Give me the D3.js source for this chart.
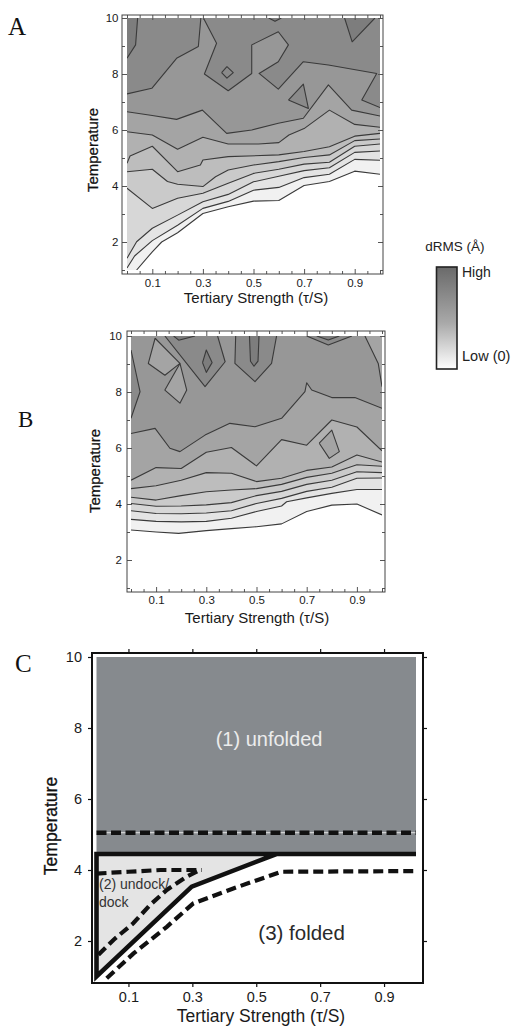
<!DOCTYPE html>
<html><head><meta charset="utf-8">
<script src="https://cdn.jsdelivr.net/npm/d3@7"></script>
<style>body{margin:0;background:#fff}svg{display:block}</style>
</head><body><svg id="c" width="513" height="1028"></svg>
<script>
// ================= DATA =================
const xTickValues = [0.1, 0.3, 0.5, 0.7, 0.9];
const xTickLabels = ["0.1", "0.3", "0.5", "0.7", "0.9"];
const yTickValues = [2, 4, 6, 8, 10];
const yTickLabels = ["2", "4", "6", "8", "10"];
const xTitle = "Tertiary Strength (\u03c4/S)";
const yTitle = "Temperature";
const panelLetters = ["A", "B", "C"];
const legendTitle = "dRMS (\u00c5)";
const legendHigh = "High";
const legendLow = "Low (0)";

// Contour lines of dRMS, panel A: [tertiary strength, temperature]
const contoursA = [
  {level:1, line:[[0.038,1.0],[0.1,1.65],[0.137,2.0],[0.2,2.33],[0.3,3.02],[0.4,3.26],[0.5,3.46],[0.6,3.48],[0.7,4.02],[0.8,4.16],[0.9,4.53],[1.0,4.42]], corners:[[1,10],[0,10],[0,1]]},
  {level:2, line:[[0,1.07],[0.03,1.5],[0.1,2.05],[0.2,2.6],[0.3,3.2],[0.4,3.45],[0.5,3.85],[0.6,3.95],[0.7,4.3],[0.8,4.42],[0.9,4.95],[1.0,4.92]], corners:[[1,10],[0,10]]},
  {level:3, line:[[0,1.42],[0.038,2.01],[0.1,2.49],[0.2,2.96],[0.3,3.44],[0.4,3.7],[0.5,4.15],[0.6,4.35],[0.7,4.55],[0.8,4.65],[0.9,5.2],[1.0,5.25]], corners:[[1,10],[0,10]]},
  {level:4, line:[[0,3.92],[0.1,3.2],[0.2,3.56],[0.3,3.74],[0.4,4.1],[0.5,4.45],[0.6,4.6],[0.7,4.78],[0.8,4.85],[0.9,5.42],[1.0,5.5]], corners:[[1,10],[0,10]]},
  {level:5, line:[[0,4.51],[0.1,4.6],[0.16,4.16],[0.2,4.06],[0.3,3.98],[0.35,4.33],[0.4,4.57],[0.5,4.75],[0.6,4.87],[0.7,5.02],[0.8,5.11],[0.9,5.62],[1.0,5.68]], corners:[[1,10],[0,10]]},
  {level:6, line:[[0,4.81],[0.012,5.07],[0.1,5.42],[0.2,4.51],[0.29,4.75],[0.3,4.93],[0.4,5.05],[0.6,5.11],[0.7,5.23],[0.8,5.4],[0.9,5.78],[1.0,5.88]], corners:[[1,10],[0,10]]},
  {level:7, line:[[0,5.94],[0.1,5.82],[0.2,5.31],[0.3,5.74],[0.4,5.5],[0.52,5.5],[0.6,5.55],[0.64,5.82],[0.7,6.05],[0.8,6.71],[0.9,6.2],[1.0,6.1]], corners:[[1,10],[0,10]]},
  {level:8, line:[[0,6.65],[0.1,6.52],[0.196,6.38],[0.298,6.71],[0.394,5.88],[0.493,6.0],[0.598,6.24],[0.697,6.42],[0.796,7.61],[0.888,6.71],[1.0,6.5]], corners:[[1,10],[0,10]]},
  {level:9, line:[[0,7.29],[0.098,7.49],[0.196,8.56],[0.282,8.98],[0.292,10]], corners:[[0,10]]},
  {level:9, line:[[0.302,10],[0.354,9.1],[0.306,8.0],[0.4,7.4],[0.493,8.02],[0.493,9.04],[0.598,9.51],[0.638,9.04],[0.598,8.44],[0.522,8.02],[0.598,7.46],[0.697,8.44],[0.796,8.32],[0.987,8.02],[0.928,7.07],[1.0,6.8]], corners:[[1,10]]},
  {level:10, line:[[0,8.56],[0.034,9.04],[0.042,10]], corners:[[0,10]]},
  {level:10, line:[[0.56,10],[0.585,9.88],[0.61,10]], corners:[]},
  {level:10, line:[[0.86,10],[0.89,9.15],[0.98,10]], corners:[]},
  {level:9, line:[[0.374,8.05],[0.395,8.26],[0.42,8.05],[0.395,7.85]], closed:true},
  {level:9, line:[[0.638,7.07],[0.697,7.64],[0.717,6.77]], closed:true}
];

// Contour lines of dRMS, panel B
const contoursB = [
  {level:1, line:[[0,3.07],[0.1,3.0],[0.19,2.95],[0.3,3.05],[0.4,3.12],[0.5,3.19],[0.6,3.29],[0.7,3.73],[0.8,3.96],[0.9,4.0],[1.0,3.61]], corners:[[1,10],[0,10]]},
  {level:2, line:[[0,3.45],[0.1,3.38],[0.2,3.36],[0.3,3.38],[0.4,3.49],[0.5,3.73],[0.6,3.93],[0.62,4.08],[0.7,4.22],[0.8,4.38],[0.9,4.52],[1.0,4.52]], corners:[[1,10],[0,10]]},
  {level:3, line:[[0,3.76],[0.1,3.66],[0.2,3.65],[0.3,3.68],[0.4,3.76],[0.5,4.02],[0.6,4.2],[0.7,4.45],[0.8,4.6],[0.9,4.92],[1.0,4.93]], corners:[[1,10],[0,10]]},
  {level:4, line:[[0,4.02],[0.1,3.92],[0.2,3.93],[0.3,3.97],[0.4,4.05],[0.5,4.3],[0.6,4.45],[0.7,4.7],[0.8,4.85],[0.9,5.15],[1.0,5.12]], corners:[[1,10],[0,10]]},
  {level:5, line:[[0,4.24],[0.1,4.14],[0.2,4.3],[0.3,4.44],[0.4,4.5],[0.5,4.55],[0.6,4.7],[0.7,4.95],[0.8,5.1],[0.9,5.4],[1.0,5.35]], corners:[[1,10],[0,10]]},
  {level:6, line:[[0,4.55],[0.1,4.65],[0.2,4.85],[0.3,5.12],[0.4,5.1],[0.5,4.8],[0.6,4.92],[0.7,5.2],[0.8,5.32],[0.9,5.75],[1.0,5.5]], corners:[[1,10],[0,10]]},
  {level:7, line:[[0,4.85],[0.1,5.3],[0.2,5.27],[0.3,5.85],[0.4,6.02],[0.5,5.36],[0.6,6.3],[0.7,6.1],[0.8,7.0],[0.9,6.75],[1.0,5.9]], corners:[[1,10],[0,10]]},
  {level:8, line:[[0,6.52],[0.096,6.7],[0.155,5.99],[0.195,5.87],[0.295,6.46],[0.394,6.88],[0.494,6.76],[0.6,7.06],[0.693,8.01],[0.7,8.33],[0.72,8.07],[0.8,7.8],[0.892,7.8],[1.0,7.42]], corners:[[1,10],[0,10]]},
  {level:7, line:[[0.096,9.92],[0.195,9.02],[0.135,8.6],[0.069,9.02]], closed:true},
  {level:7, line:[[0.195,9.02],[0.222,8.07],[0.195,7.6],[0.135,8.07]], closed:true},
  {level:7, line:[[0.932,10],[0.985,9.02],[1.0,8.19]], corners:[[1,10]]},
  {level:9, line:[[0,9.5],[0.036,8.01],[0,7.06]], corners:[]},
  {level:9, line:[[0.135,10],[0.295,8.19],[0.375,9.08],[0.345,10]], corners:[]},
  {level:10, line:[[0.17,10],[0.19,9.85],[0.255,10]], corners:[]},
  {level:10, line:[[0.285,9.05],[0.3,9.5],[0.323,9.05],[0.3,8.7]], closed:true},
  {level:9, line:[[0.417,10],[0.414,9.02],[0.494,8.37],[0.56,9.02],[0.58,10]], corners:[]},
  {level:10, line:[[0.472,10],[0.476,9.1],[0.49,8.92],[0.506,9.1],[0.51,10]], corners:[]},
  {level:9, line:[[0.70,10],[0.786,9.68],[0.88,10]], corners:[]},
  {level:10, line:[[0.74,10],[0.786,9.86],[0.83,10]], corners:[]},
  {level:7, line:[[0.75,6.17],[0.8,6.64],[0.83,5.87],[0.79,5.63]], closed:true}
];

// Panel C phase diagram
const phaseUnfolded = [[0,4.45],[1,4.45],[1,10],[0,10]];
const phaseUndock = [[0,4.45],[0.563,4.45],[0.298,3.53],[0,1.0]];
const boundarySolid = [[1,4.45],[0.563,4.45],[0.298,3.53],[0,1.0],[0,4.45],[0.563,4.45]];
const boundaryDashUpper = [[0,5.05],[1,5.05]];
const boundaryDashFlat = [[0,3.9],[0.1,3.95],[0.2,4.0],[0.33,4.0]];
const boundaryDashInner = [[0.006,1.61],[0.053,2.03],[0.115,2.5],[0.167,3.01],[0.22,3.44],[0.282,3.81],[0.324,4.0]];
const boundaryDashOuter = [[0.032,0.95],[0.116,1.65],[0.22,2.4],[0.303,3.06],[0.428,3.48],[0.578,3.95],[1.0,3.97]];
const phaseNames = ["(1) unfolded", "(2) undock/", "dock", "(3) folded"];

// ================= STYLE / LAYOUT =================
const shades = ["#ffffff","#f1f1f1","#e4e4e4","#d7d7d7","#cacaca","#bdbdbd","#b1b1b1","#a4a4a4","#979797","#8a8a8a","#7d7d7d"];
const FONT = "'Liberation Sans', Arial, sans-serif";
const SERIF = "'Liberation Serif', 'Times New Roman', serif";
const svg = d3.select("#c");
const defs = svg.append("defs");

function styleAxis(g, size, color) {
  g.select(".domain").remove();
  g.selectAll("line").attr("stroke", color).attr("stroke-width", 1);
  g.selectAll("text").attr("font-family", FONT).attr("font-size", size).attr("fill", "#1a1a1a");
}

function contourPanel(contours, L, id) {
  const x = d3.scaleLinear().domain([0, 1]).range([L.left, L.right]);
  const y = d3.scaleLinear().domain([1, 10]).range([L.bottom, L.top]);
  const g = svg.append("g");
  defs.append("clipPath").attr("id", id).append("rect")
    .attr("x", L.left).attr("y", L.top).attr("width", L.right - L.left).attr("height", L.bottom - L.top);
  const gc = g.append("g").attr("clip-path", `url(#${id})`);
  const line = d3.line().x(d => x(d[0])).y(d => y(d[1]));
  contours.forEach(c => {
    const poly = c.line.concat(c.corners || []);
    gc.append("path").attr("d", line(poly) + "Z").attr("fill", shades[c.level]).attr("stroke", "none");
  });
  contours.forEach(c => {
    const pts = c.closed ? c.line.concat([c.line[0]]) : c.line;
    gc.append("path").attr("d", line(pts)).attr("fill", "none")
      .attr("stroke", "#3a3a3a").attr("stroke-width", 1.1).attr("stroke-linejoin", "round");
  });
  const F = L.frame;
  const xMinor = d3.range(0, 1.0001, 0.05).filter(v => !xTickValues.some(t => Math.abs(t - v) < 1e-6));
  const yMinor = d3.range(1, 10.0001, 1).filter(v => !yTickValues.includes(v));
  const tc = "#555";
  g.append("g").attr("transform", `translate(0,${F[3]})`)
    .call(d3.axisBottom(x).tickValues(xTickValues).tickSizeInner(-5).tickSizeOuter(0).tickPadding(L.xPad).tickFormat((d, i) => xTickLabels[i]))
    .call(a => styleAxis(a, 11.5, tc));
  g.append("g").attr("transform", `translate(0,${F[3]})`)
    .call(d3.axisBottom(x).tickValues(xMinor).tickSizeInner(-3).tickSizeOuter(0).tickFormat(""))
    .call(a => styleAxis(a, 11.5, tc));
  g.append("g").attr("transform", `translate(0,${F[1]})`)
    .call(d3.axisTop(x).tickValues(xTickValues).tickSizeInner(-5).tickSizeOuter(0).tickFormat(""))
    .call(a => styleAxis(a, 11.5, tc));
  g.append("g").attr("transform", `translate(0,${F[1]})`)
    .call(d3.axisTop(x).tickValues(xMinor).tickSizeInner(-3).tickSizeOuter(0).tickFormat(""))
    .call(a => styleAxis(a, 11.5, tc));
  g.append("g").attr("transform", `translate(${F[0]},0)`)
    .call(d3.axisLeft(y).tickValues(yTickValues).tickSizeInner(-5).tickSizeOuter(0).tickPadding(L.yPad).tickFormat((d, i) => yTickLabels[i]))
    .call(a => styleAxis(a, 11.5, tc));
  g.append("g").attr("transform", `translate(${F[0]},0)`)
    .call(d3.axisLeft(y).tickValues(yMinor).tickSizeInner(-3).tickSizeOuter(0).tickFormat(""))
    .call(a => styleAxis(a, 11.5, tc));
  g.append("g").attr("transform", `translate(${F[2]},0)`)
    .call(d3.axisRight(y).tickValues(yTickValues).tickSizeInner(-5).tickSizeOuter(0).tickFormat(""))
    .call(a => styleAxis(a, 11.5, tc));
  g.append("g").attr("transform", `translate(${F[2]},0)`)
    .call(d3.axisRight(y).tickValues(yMinor).tickSizeInner(-3).tickSizeOuter(0).tickFormat(""))
    .call(a => styleAxis(a, 11.5, tc));
  g.append("rect").attr("x", F[0]).attr("y", F[1]).attr("width", F[2] - F[0]).attr("height", F[3] - F[1])
    .attr("fill", "none").attr("stroke", "#444").attr("stroke-width", 1);
  g.append("text").attr("x", L.xTitleX).attr("y", L.xTitleY).attr("text-anchor", "middle")
    .attr("font-family", FONT).attr("font-size", 15).attr("fill", "#1a1a1a").text(xTitle);
  g.append("text").attr("transform", `translate(${L.yTitleX},${L.yTitleY}) rotate(-90)`).attr("text-anchor", "middle")
    .attr("font-family", FONT).attr("font-size", 15).attr("fill", "#111").attr("stroke", "#111").attr("stroke-width", 0.25).text(yTitle);
  g.append("text").attr("x", L.letterX).attr("y", L.letterY).attr("font-family", SERIF)
    .attr("font-size", L.letterSize).attr("fill", "#111").text(L.letter);
}

contourPanel(contoursA, {left:127, right:380, top:18, bottom:270, frame:[122,15,383,274], xPad:4.5, yPad:3.5,
  xTitleX:256, xTitleY:303, yTitleX:98, yTitleY:150, letter:panelLetters[0], letterX:8, letterY:35, letterSize:25}, "clipA");
contourPanel(contoursB, {left:131, right:382, top:336, bottom:588, frame:[127,331,385,592], xPad:4, yPad:5,
  xTitleX:257, xTitleY:623, yTitleX:100, yTitleY:471, letter:panelLetters[1], letterX:18, letterY:427, letterSize:23}, "clipB");

// ---------- Legend ----------
const grad = defs.append("linearGradient").attr("id", "lg").attr("x1", 0).attr("y1", 0).attr("x2", 0).attr("y2", 1);
grad.append("stop").attr("offset", "0%").attr("stop-color", "#6a6a6a");
grad.append("stop").attr("offset", "55%").attr("stop-color", "#a9a9a9");
grad.append("stop").attr("offset", "100%").attr("stop-color", "#ffffff");
svg.append("rect").attr("x", 436.5).attr("y", 267).attr("width", 20.5).attr("height", 102)
  .attr("fill", "url(#lg)").attr("stroke", "#222").attr("stroke-width", 1.6);
svg.append("text").attr("x", 455).attr("y", 251).attr("text-anchor", "middle").attr("font-family", FONT)
  .attr("font-size", 13.5).attr("fill", "#222").text(legendTitle);
svg.append("text").attr("x", 462).attr("y", 277).attr("font-family", FONT)
  .attr("font-size", 14).attr("fill", "#222").text(legendHigh);
svg.append("text").attr("x", 462).attr("y", 361).attr("font-family", FONT)
  .attr("font-size", 14.5).attr("fill", "#222").text(legendLow);

// ---------- Panel C ----------
(function () {
  const x = d3.scaleLinear().domain([0, 1]).range([96.5, 416]);
  const y = d3.scaleLinear().domain([4, 10]).range([870, 657]);
  const g = svg.append("g");
  const line = d3.line().x(d => x(d[0])).y(d => y(d[1]));
  g.append("path").attr("d", line(phaseUnfolded) + "Z").attr("fill", "#868a8e");
  g.append("path").attr("d", line(phaseUndock) + "Z").attr("fill", "#e4e4e4");
  g.append("path").attr("d", line(boundaryDashUpper)).attr("fill", "none").attr("stroke", "#e6e6e6")
    .attr("stroke-width", 1);
  g.append("path").attr("d", line(boundaryDashUpper)).attr("fill", "none").attr("stroke", "#111")
    .attr("stroke-width", 4.4).attr("stroke-dasharray", "10,4.5");
  [boundaryDashFlat, boundaryDashInner, boundaryDashOuter].forEach(b => {
    g.append("path").attr("d", line(b)).attr("fill", "none").attr("stroke", "#111")
      .attr("stroke-width", 4.2).attr("stroke-dasharray", "10,5");
  });
  g.append("path").attr("d", line(boundarySolid)).attr("fill", "none").attr("stroke", "#111")
    .attr("stroke-width", 4.6).attr("stroke-linejoin", "miter").attr("stroke-miterlimit", 10);
  const F = [92, 653, 423, 983];
  const st = a => { a.select(".domain").remove(); a.selectAll("line").attr("stroke", "#111").attr("stroke-width", 1.2);
    a.selectAll("text").attr("font-family", FONT).attr("font-size", 14.5).attr("fill", "#1a1a1a"); };
  g.append("g").attr("transform", `translate(0,${F[3]})`)
    .call(d3.axisBottom(x).tickValues(xTickValues).tickSizeInner(4).tickSizeOuter(0).tickPadding(4.4).tickFormat((d, i) => xTickLabels[i])).call(st);
  g.append("g").attr("transform", `translate(0,${F[1]})`)
    .call(d3.axisTop(x).tickValues(xTickValues).tickSizeInner(4).tickSizeOuter(0).tickFormat("")).call(st);
  g.append("g").attr("transform", `translate(${F[0]},0)`)
    .call(d3.axisLeft(y).tickValues(yTickValues).tickSizeInner(4).tickSizeOuter(0).tickPadding(6).tickFormat((d, i) => yTickLabels[i])).call(st);
  g.append("g").attr("transform", `translate(${F[2]},0)`)
    .call(d3.axisRight(y).tickValues(yTickValues).tickSizeInner(4).tickSizeOuter(0).tickFormat("")).call(st);
  g.append("rect").attr("x", F[0]).attr("y", F[1]).attr("width", F[2] - F[0]).attr("height", F[3] - F[1])
    .attr("fill", "none").attr("stroke", "#111").attr("stroke-width", 2);
  g.append("text").attr("x", x(0.54)).attr("y", y(7.49)).attr("text-anchor", "middle").attr("font-family", FONT)
    .attr("font-size", 20).attr("fill", "#ececec").text(phaseNames[0]);
  g.append("text").attr("x", x(0.008)).attr("y", y(3.47)).attr("font-family", FONT)
    .attr("font-size", 14).attr("fill", "#333").text(phaseNames[1]);
  g.append("text").attr("x", x(0.008)).attr("y", y(2.97)).attr("font-family", FONT)
    .attr("font-size", 14).attr("fill", "#333").text(phaseNames[2]);
  g.append("text").attr("x", x(0.642)).attr("y", y(2.03)).attr("text-anchor", "middle").attr("font-family", FONT)
    .attr("font-size", 20.5).attr("fill", "#2a2a2a").text(phaseNames[3]);
  g.append("text").attr("x", 261).attr("y", 1022).attr("text-anchor", "middle")
    .attr("font-family", FONT).attr("font-size", 17.5).attr("fill", "#1a1a1a").text(xTitle);
  g.append("text").attr("transform", "translate(57,826) rotate(-90)").attr("text-anchor", "middle")
    .attr("font-family", FONT).attr("font-size", 17.5).attr("fill", "#111").attr("stroke", "#111").attr("stroke-width", 0.3).text(yTitle);
  g.append("text").attr("x", 15).attr("y", 672).attr("font-family", SERIF)
    .attr("font-size", 25).attr("fill", "#111").text(panelLetters[2]);
})();
</script></body></html>
